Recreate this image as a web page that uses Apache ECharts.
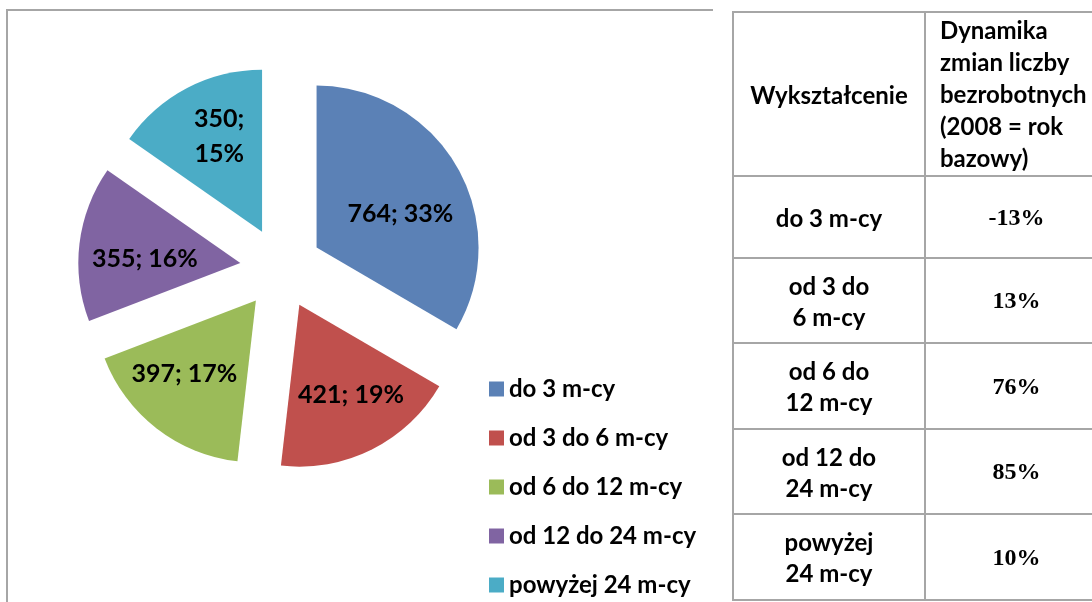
<!DOCTYPE html>
<html>
<head>
<meta charset="utf-8">
<script src="https://cdn.jsdelivr.net/npm/echarts@6/dist/echarts.min.js"></script>
<style>
  html, body { margin: 0; padding: 0; background: #fff; }
  #chart { position: absolute; left: 0; top: 0; width: 1092px; height: 602px; }
  .dyn-table {
    position: absolute;
    left: 732px;
    top: 11px;
    width: 375px;
    border-collapse: collapse;
    table-layout: fixed;
    font-family: Lato, 'Noto Sans', sans-serif;
    font-weight: bold;
    color: #000;
  }
  .dyn-table td {
    border: 2px solid #a6a6a6;
    padding: 0;
    text-align: center;
    vertical-align: middle;
    font-size: 24px;
    line-height: 31px;
    white-space: nowrap;
  }
  .dyn-table td.head2 {
    text-align: left;
    padding-left: 14px;
    line-height: 32px;
  }
  .dyn-table td.num {
    font-family: 'Liberation Serif', 'DejaVu Serif', serif;
    font-size: 24px;
  }
</style>
</head>
<body>
<div id="chart"></div>
<table class="dyn-table" id="dynTable">
  <colgroup><col style="width:192px"><col style="width:183px"></colgroup>
  <tbody></tbody>
</table>
<script>
// dane z wykresu
const categories = ['do 3 m-cy', 'od 3 do 6 m-cy', 'od 6 do 12 m-cy', 'od 12 do 24 m-cy', 'powyżej 24 m-cy']
const counts = [764, 421, 397, 355, 350]
const sharePct = [33, 19, 17, 16, 15]
const colors = ['#5B81B6', '#C0504D', '#9BBB59', '#8064A2', '#4BACC6']

// tabela obok wykresu
const tableHead = ['Wykształcenie', 'Dynamika\nzmian liczby\nbezrobotnych\n(2008 = rok\nbazowy)']
const rowLabels = ['do 3 m-cy', 'od 3 do\n6 m-cy', 'od 6 do\n12 m-cy', 'od 12 do\n24 m-cy', 'powyżej\n24 m-cy']
const dynamics = ['-13%', '13%', '76%', '85%', '10%']

// przesunięcia etykiet (jak w Excelu, trochę dalej od środka)
const labelNudge = [[11, 8], [14, 15], [-20, 7], [-12, 6], [-4, -21]]

const rowHeights = [164, 82, 85, 86, 85, 86]

function buildTable () {
  const body = document.querySelector('#dynTable tbody')
  const br = s => s.split('\n').join('<br>')
  let html = '<tr style="height:' + rowHeights[0] + 'px"><td>' + br(tableHead[0]) +
    '</td><td class="head2">' + br(tableHead[1]) + '</td></tr>'
  rowLabels.forEach((lbl, i) => {
    html += '<tr style="height:' + rowHeights[i + 1] + 'px"><td>' + br(lbl) +
      '</td><td class="num">' + dynamics[i] + '</td></tr>'
  })
  body.innerHTML = html
}
buildTable()

const chart = echarts.init(document.getElementById('chart'), null, { renderer: 'canvas' })

const pieData = categories.map((name, i) => ({
  name: name,
  value: counts[i],
  selected: true
}))

const option = {
  animation: false,
  color: colors,
  graphic: [{
    type: 'polyline',
    shape: { points: [[7, 700], [7, 10], [713, 10]] },
    style: { stroke: '#a6a6a6', lineWidth: 2, fill: null },
    silent: true
  }],
  legend: {
    orient: 'vertical',
    left: 489,
    top: 377,
    height: 300,
    padding: 0,
    icon: 'rect',
    itemWidth: 15,
    itemHeight: 15,
    itemGap: 25,
    selectedMode: false,
    data: categories,
    textStyle: {
      fontFamily: 'Lato',
      fontWeight: 'bold',
      fontSize: 24,
      lineHeight: 20,
      color: '#000'
    }
  },
  series: [{
    type: 'pie',
    center: [281, 268],
    radius: [0, 162],
    startAngle: 90,
    clockwise: true,
    selectedMode: 'multiple',
    selectedOffset: 41,
    avoidLabelOverlap: false,
    emphasis: { disabled: true },
    itemStyle: { borderWidth: 0 },
    label: {
      show: true,
      position: 'inside',
      fontFamily: 'Lato',
      fontWeight: 'bold',
      fontSize: 25,
      lineHeight: 35,
      color: '#000',
      formatter: p => {
        const sep = p.dataIndex === categories.length - 1 ? ';\n' : '; '
        return counts[p.dataIndex] + sep + sharePct[p.dataIndex] + '%'
      }
    },
    labelLayout: p => ({ dx: labelNudge[p.dataIndex][0], dy: labelNudge[p.dataIndex][1] }),
    labelLine: { show: false },
    data: pieData
  }]
}

chart.setOption(option)
</script>
</body>
</html>
